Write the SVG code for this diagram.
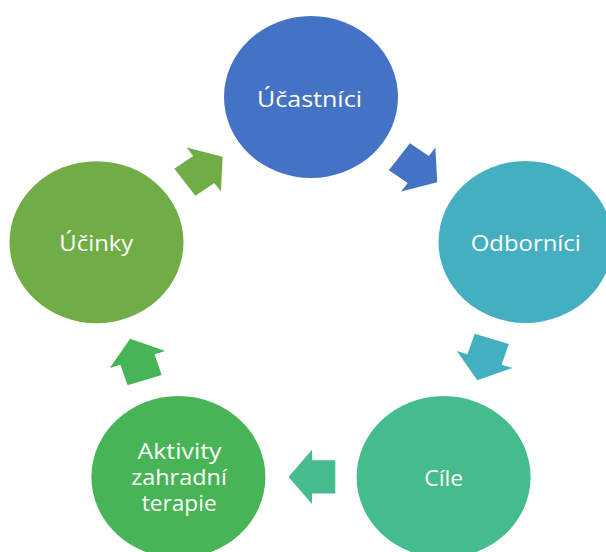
<svg xmlns="http://www.w3.org/2000/svg" width="606" height="552" viewBox="0 0 606 552">
  <style>
    .lbl { font-family: "Open Sans", "Liberation Sans", sans-serif; font-size: 21px; fill: #ffffff; text-anchor: middle; }
  </style>
  <defs>
    <path id="arr" d="M -21.7 -16.7 H 0 V -27.15 L 21.8 0 L 0 27.15 V 16.7 H -21.7 Z"/>
  </defs>
  <rect width="606" height="552" fill="#ffffff"/>
  <g id="connectors">
    <use href="#arr" fill="#4472C4" transform="translate(418.25 169.55) scale(1.074 1) rotate(36)"/>
    <use href="#arr" fill="#43AFC0" transform="translate(484.55 359.5) scale(1.074 1) rotate(108)"/>
    <use href="#arr" fill="#45BC8D" transform="translate(312 476.9) scale(1.074 1) rotate(180)"/>
    <use href="#arr" fill="#47B455" transform="translate(137.45 359.5) scale(1.074 1) rotate(252)"/>
    <use href="#arr" fill="#70AD47" transform="translate(203.75 169.55) scale(1.074 1) rotate(324)"/>
  </g>
  <g id="node-ucastnici">
    <ellipse cx="311" cy="97" rx="87" ry="81" fill="#4472C4"/>
    <text class="lbl" x="309.5" y="106.7" textLength="105" lengthAdjust="spacingAndGlyphs">Účastníci</text>
  </g>
  <g id="node-odbornici">
    <ellipse cx="525.5" cy="242" rx="87" ry="81" fill="#43AFC0"/>
    <text class="lbl" x="525.8" y="250.7" textLength="110" lengthAdjust="spacingAndGlyphs">Odborníci</text>
  </g>
  <g id="node-cile">
    <ellipse cx="443.6" cy="477" rx="87" ry="81" fill="#45BC8D"/>
    <text class="lbl" x="443.7" y="486" textLength="39" lengthAdjust="spacingAndGlyphs">Cíle</text>
  </g>
  <g id="node-aktivity">
    <ellipse cx="178.4" cy="477" rx="87" ry="81" fill="#47B455"/>
    <text class="lbl" x="179.5" y="459.3" textLength="84" lengthAdjust="spacingAndGlyphs">Aktivity</text>
    <text class="lbl" x="179" y="485" textLength="95.7" lengthAdjust="spacingAndGlyphs">zahradní</text>
    <text class="lbl" x="179.2" y="511" textLength="75" lengthAdjust="spacingAndGlyphs">terapie</text>
  </g>
  <g id="node-ucinky">
    <ellipse cx="96.5" cy="242.2" rx="87" ry="81" fill="#70AD47"/>
    <text class="lbl" x="96.3" y="251" textLength="74" lengthAdjust="spacingAndGlyphs">Účinky</text>
  </g>
</svg>
